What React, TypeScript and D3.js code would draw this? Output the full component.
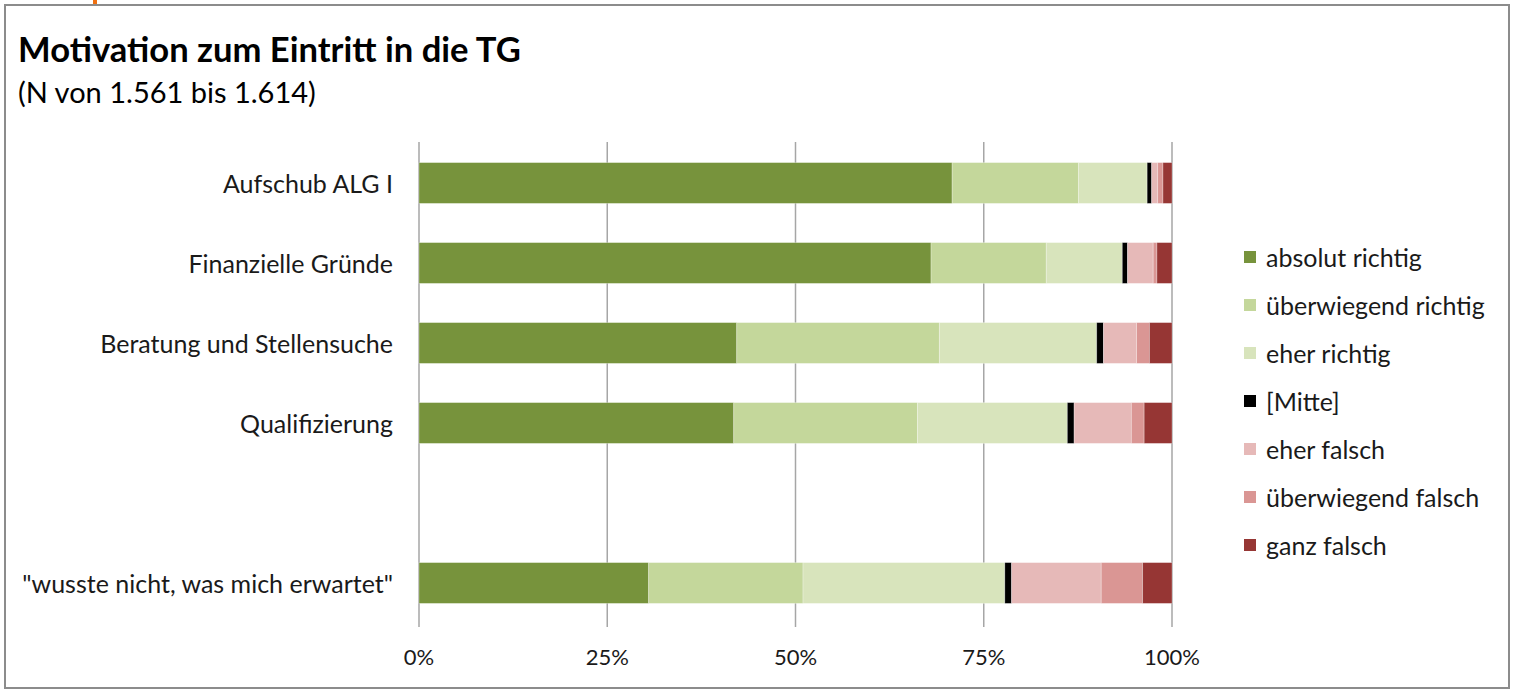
import React from "react";
import * as d3 from "d3";

const categories = [
  "Aufschub ALG I",
  "Finanzielle Gründe",
  "Beratung und Stellensuche",
  "Qualifizierung",
  "",
  "\"wusste nicht, was mich erwartet\"",
];

const seriesNames = [
  "absolut richtig",
  "überwiegend richtig",
  "eher richtig",
  "[Mitte]",
  "eher falsch",
  "überwiegend falsch",
  "ganz falsch",
];

const seriesColors = ["#77933c", "#c4d79b", "#d8e4bc", "#000000", "#e6b9b8", "#da9694", "#963634"];

const absolutRichtig = [70.8, 68.0, 42.2, 41.8, 0, 30.5];
const ueberwiegendRichtig = [16.8, 15.3, 26.9, 24.4, 0, 20.5];
const eherRichtig = [9.1, 10.1, 20.9, 19.9, 0, 26.8];
const mitte = [0.6, 0.7, 0.9, 0.9, 0, 0.9];
const eherFalsch = [0.8, 3.4, 4.4, 7.6, 0, 11.9];
const ueberwiegendFalsch = [0.7, 0.5, 1.7, 1.7, 0, 5.5];
const ganzFalsch = [1.2, 2.0, 3.0, 3.7, 0, 3.9];

const tickValues = [0, 0.25, 0.5, 0.75, 1];
const tickLabels = ["0%", "25%", "50%", "75%", "100%"];

const FONT = "Lato, 'Open Sans', sans-serif";

export default function App() {
  const W = 1518;
  const H = 691;
  const plot = { left: 419, right: 1172, top: 143, bottom: 623 };

  const seriesValues = [absolutRichtig, ueberwiegendRichtig, eherRichtig, mitte, eherFalsch, ueberwiegendFalsch, ganzFalsch];
  const rows = categories.map((c, i) => {
    const r: any = { key: String(i), label: c };
    seriesNames.forEach((s, j) => (r[s] = seriesValues[j][i]));
    return r;
  });
  const stacked = d3
    .stack<any>()
    .keys(seriesNames)
    .offset((series, order) => {
      // expand to 100%, skipping empty rows
      for (let i = 0; i < series[0].length; i++) {
        let sum = 0;
        for (let j = 0; j < series.length; j++) sum += series[j][i][1] - series[j][i][0];
        if (sum > 0) {
          for (let j = 0; j < series.length; j++) {
            series[j][i][0] /= sum;
            series[j][i][1] /= sum;
          }
        }
      }
      d3.stackOffsetNone(series, order);
    })(rows);

  const x = d3.scaleLinear().domain([0, 1]).range([plot.left, plot.right]);
  const y = d3
    .scaleBand<string>()
    .domain(rows.map((r) => r.key))
    .range([plot.top, plot.bottom])
    .paddingInner(0.49)
    .paddingOuter(0.245);

  const legendX = 1244;
  const legendY0 = 257;
  const legendStep = 48;

  return (
    <svg
      width={W}
      height={H}
      style={{ position: "absolute", left: 0, top: 0, background: "#fff" }}
      fontFamily={FONT}
    >
      <rect x={0} y={0} width={W} height={H} fill="#fff" />
      <rect x={93} y={0} width={4} height={4} fill="#f07010" />
      <rect x={5} y={5} width={1504} height={683} fill="none" stroke="#8c8c8c" strokeWidth={2} />

      <text x={18} y={62} fontSize={34.6} fontWeight={700} fill="#000">
        Motivation zum Eintritt in die TG
      </text>
      <text x={18} y={103} fontSize={29} fill="#000">
        (N von 1.561 bis 1.614)
      </text>

      {tickValues.map((t, i) => (
        <g key={i}>
          <line x1={x(t)} x2={x(t)} y1={142} y2={627} stroke="#a6a6a6" strokeWidth={1.5} />
          <text x={x(t)} y={665} fontSize={22} textAnchor="middle" fill="#1a1a1a">
            {tickLabels[i]}
          </text>
        </g>
      ))}

      {stacked.map((s, j) => (
        <g key={s.key} fill={seriesColors[j]}>
          {s.map((d, i) =>
            d[1] - d[0] > 0 ? (
              <rect
                key={i}
                x={x(d[0])}
                y={y(String(i))}
                width={x(d[1]) - x(d[0])}
                height={y.bandwidth()}
                stroke="#ffffff"
                strokeOpacity={0.35}
                strokeWidth={0.8}
              />
            ) : null
          )}
        </g>
      ))}

      {rows.map((r) => (
        <text
          key={r.key}
          x={393}
          y={(y(r.key) as number) + y.bandwidth() / 2}
          fontSize={25}
          textAnchor="end"
          dominantBaseline="central"
          fill="#1a1a1a"
        >
          {r.label}
        </text>
      ))}

      {seriesNames.map((s, j) => (
        <g key={s}>
          <rect x={legendX} y={legendY0 + j * legendStep - 6} width={12} height={12} fill={seriesColors[j]} />
          <text
            x={1266}
            y={legendY0 + j * legendStep}
            fontSize={25}
            dominantBaseline="central"
            fill="#1a1a1a"
          >
            {s}
          </text>
        </g>
      ))}
    </svg>
  );
}
